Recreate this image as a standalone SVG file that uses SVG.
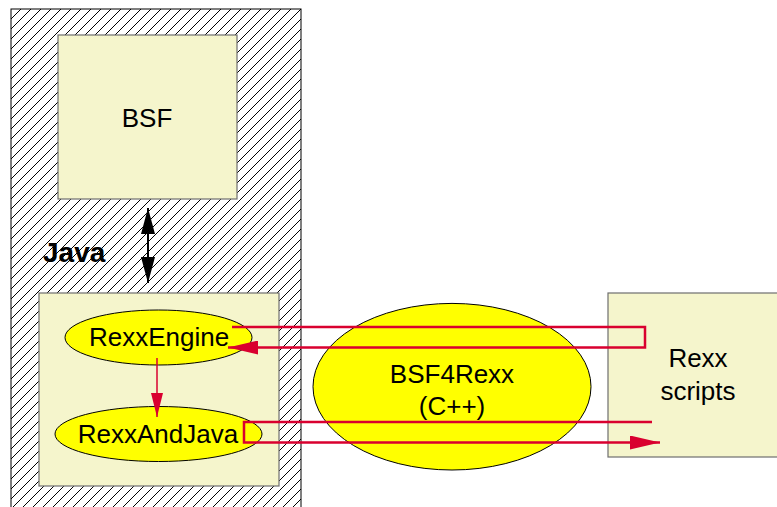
<svg xmlns="http://www.w3.org/2000/svg" width="777" height="507" viewBox="0 0 777 507">
<defs>
<pattern id="hatch" patternUnits="userSpaceOnUse" width="10" height="10">
<path d="M-1,11 L11,-1 M-3,3 L3,-3 M7,13 L13,7" stroke="#000" stroke-width="1.2" shape-rendering="crispEdges"/>
</pattern>
<marker id="redArrow" viewBox="0 0 30 14" refX="30" refY="7" markerWidth="30" markerHeight="14" markerUnits="userSpaceOnUse" orient="auto">
<path d="M0,0 L30,7 L0,14 Z" fill="#d9002f"/>
</marker>
<marker id="redArrowSmall" viewBox="0 0 12 24" refX="6" refY="24" markerWidth="12" markerHeight="24" markerUnits="userSpaceOnUse" orient="0">
<path d="M0,0 L12,0 L6,24 Z" fill="#d9002f"/>
</marker>
<marker id="blackArrow" viewBox="0 0 26 14" refX="26" refY="7" markerWidth="26" markerHeight="14" markerUnits="userSpaceOnUse" orient="auto-start-reverse">
<path d="M0,0 L26,7 L0,14 Z" fill="#000"/>
</marker>
</defs>
<style>
.box{fill:#f5f5cc;stroke:#6e6e6e;stroke-width:1.2}
.ell{fill:#ffff00;stroke:#000;stroke-width:1}
.lbl{font-family:"Liberation Sans",Arial,sans-serif;font-size:26px;fill:#000;text-anchor:middle}
.red{fill:none;stroke:#d9002f;stroke-width:2.5}
</style>
<rect width="777" height="507" fill="#fff"/>
<g id="java">
<rect x="11" y="9" width="290" height="510" fill="#fff"/>
<rect x="11" y="9" width="290" height="510" fill="url(#hatch)" stroke="#000" stroke-width="1"/>
<text x="43" y="262" font-family="'Liberation Sans',Arial,sans-serif" font-size="28" font-weight="bold">Java</text>
</g>
<g id="bsf">
<rect class="box" x="58" y="35" width="179" height="164"/>
<text class="lbl" x="147" y="127">BSF</text>
</g>
<g id="javaInner">
<rect class="box" x="39" y="293" width="240" height="193"/>
</g>
<g id="rexxEngine">
<ellipse class="ell" cx="158.5" cy="337.5" rx="93.5" ry="27.5"/>
<text class="lbl" x="159" y="346">RexxEngine</text>
</g>
<g id="rexxAndJava">
<ellipse class="ell" cx="158.5" cy="434" rx="103.5" ry="27.5"/>
<text class="lbl" x="158" y="443">RexxAndJava</text>
</g>
<g id="bsf4rexx">
<ellipse class="ell" cx="452" cy="386.7" rx="139" ry="83.3"/>
<text class="lbl" x="452" y="383">BSF4Rexx</text>
<text class="lbl" x="452" y="415">(C++)</text>
</g>
<g id="rexxScripts">
<rect class="box" x="608" y="293" width="175" height="164"/>
<text class="lbl" x="698" y="367">Rexx</text>
<text class="lbl" x="698" y="400">scripts</text>
</g>
<g id="connectors">
<line x1="148" y1="208" x2="148" y2="283" stroke="#000" stroke-width="2" marker-start="url(#blackArrow)" marker-end="url(#blackArrow)"/>
<line x1="157" y1="358" x2="157" y2="417" stroke="#d9002f" stroke-width="1.5" marker-end="url(#redArrowSmall)"/>
<polyline class="red" points="232,327 645,327 645,347.5 228,347.5" marker-end="url(#redArrow)"/>
<polyline class="red" points="652,422 244,422 244,442.5 660,442.5" marker-end="url(#redArrow)"/>
</g>
</svg>
